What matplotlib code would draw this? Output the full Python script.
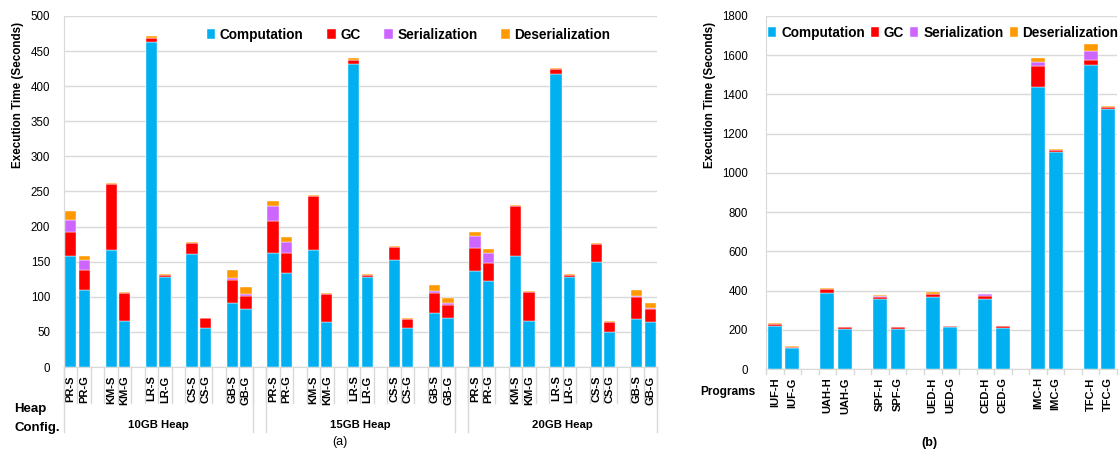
import numpy as np
import matplotlib.pyplot as plt
import matplotlib.transforms as mtransforms

plt.rcParams['font.family'] = ['Liberation Sans', 'DejaVu Sans']

# colours of the four time components
c_comp = '#00B0F0'
c_gc = '#FF0000'
c_ser = '#CC66FF'
c_deser = '#FF9900'
grid_c = '#D9D9D9'

# (a) Spark workloads under three heap sizes
heaps = ['10GB Heap', '15GB Heap', '20GB Heap']
workloads = ['PR-S', 'PR-G', 'KM-S', 'KM-G', 'LR-S', 'LR-G', 'CS-S', 'CS-G', 'GB-S', 'GB-G']

comp_a = [158, 109, 167, 65, 463, 127.5, 161, 56, 91.5, 83,
          162, 134, 167, 64, 432, 128, 153, 55.7, 76.7, 70.5,
          137, 122, 158.6, 66, 418, 128, 150, 50.5, 69, 64.3]
gc_a = [34, 29, 93, 41, 5.5, 3, 15, 13.5, 32.5, 18.5,
        45.5, 29, 77, 40, 4.8, 3, 17.5, 12, 28.3, 18,
        32, 25.6, 71, 40.7, 5.8, 3.4, 25.7, 14.3, 30.5, 17.7]
ser_a = [18, 14, 0.5, 0, 0, 0, 0, 0, 3, 2.5,
         21.5, 15.5, 0, 0, 0, 0, 0, 0, 3, 2.8,
         17, 15.4, 0, 0, 0, 0, 0, 0, 1.9, 1.8]
deser_a = [12, 6, 1.5, 1.5, 3, 2, 2, 1, 11, 9.5,
           7, 7, 1.5, 1.5, 2.8, 1.5, 1.5, 1.4, 8.7, 7.6,
           6, 5.6, 1, 1, 2, 1.5, 1.3, 0.9, 8.1, 7.2]

# (b) programs, H and G versions
programs = ['IUF-H', 'IUF-G', 'UAH-H', 'UAH-G', 'SPF-H', 'SPF-G', 'UED-H', 'UED-G',
            'CED-H', 'CED-G', 'IMC-H', 'IMC-G', 'TFC-H', 'TFC-G']
comp_b = [217, 105, 390, 205, 357.6, 205, 367.8, 213.6, 359, 208.5, 1436, 1106, 1548, 1328]
gc_b = [13.5, 8.6, 18.5, 7, 10.2, 7, 15.2, 6.4, 15.6, 8.5, 110, 12, 29, 10]
ser_b = [0, 0, 0, 0, 6.8, 0, 0, 0, 6.4, 0, 20.5, 0, 42, 0]
deser_b = [3.5, 1.4, 6.5, 0, 5.1, 0, 8.5, 0, 3.7, 0, 20.5, 2, 39, 2]


def slots(n_items):
    # every pair of bars is followed by one empty slot
    return np.array([(i // 2) * 3 + i % 2 for i in range(n_items)])


def stack(ax, x, parts, width):
    bottom = np.zeros(len(x))
    names = ['Computation', 'GC', 'Serialization', 'Deserialization']
    cols = [c_comp, c_gc, c_ser, c_deser]
    for vals, name, col in zip(parts, names, cols):
        vals = np.array(vals, dtype=float)
        ax.bar(x, vals, width, bottom=bottom, color=col, label=name,
               edgecolor='white', linewidth=0.3, zorder=3)
        bottom += vals


def style(ax, top, step, ypad):
    ax.set_ylim(0, top)
    ax.set_yticks(np.arange(0, top + 1, step))
    ax.grid(axis='y', color=grid_c, linewidth=1, zorder=0)
    for s in ['top', 'right']:
        ax.spines[s].set_visible(False)
    ax.spines['left'].set_color(grid_c)
    ax.spines['bottom'].set_color(grid_c)
    ax.tick_params(axis='y', length=0, labelsize=8.3, pad=ypad)
    ax.tick_params(axis='x', length=0, labelsize=8, pad=6)


fig = plt.figure(figsize=(11.19, 4.51), dpi=100)

# ---- chart (a)
ax1 = fig.add_axes([64 / 1119, 1 - 367 / 451, 593 / 1119, 351 / 451])
x1 = slots(30)
stack(ax1, x1, [comp_a, gc_a, ser_a, deser_a], 0.84)
style(ax1, 500, 50, 10)
ax1.set_xlim(-0.5, 43.5)
ax1.set_xticks(x1)
ax1.set_xticklabels(workloads * 3, rotation=90, fontweight='bold')

trans1 = mtransforms.blended_transform_factory(ax1.transData, ax1.transAxes)
# separators in the workload label row
for b in np.arange(-0.5, 44, 1):
    ax1.plot([b, b], [0, -36 / 351], color=grid_c, lw=1, transform=trans1, clip_on=False)
# separators in the heap row
for b in [-0.5, 13.5, 14.5, 28.5, 29.5, 43.5]:
    ax1.plot([b, b], [0, -65 / 351], color=grid_c, lw=1, transform=trans1, clip_on=False)
for g, h in enumerate(heaps):
    ax1.text(g * 15 + 6.5, -58 / 351, h, transform=trans1, ha='center', va='center',
             fontsize=8.2, fontweight='bold')

leg1 = ax1.legend(loc='center left', bbox_to_anchor=(0.241, 0.946), ncol=4, frameon=False,
                  prop={'weight': 'bold', 'size': 9.8}, handlelength=0.6, handleheight=0.7,
                  handletextpad=0.35, columnspacing=1.75, borderpad=0, borderaxespad=0)

fig.text(14 / 1119, 1 - 409 / 451, 'Heap', fontsize=9.5, fontweight='bold', va='center')
fig.text(14 / 1119, 1 - 428 / 451, 'Config.', fontsize=9.5, fontweight='bold', va='center')
fig.text(18 / 1119, 1 - 95 / 451, 'Execution Time (Seconds)', rotation=90, ha='center',
         va='center', fontsize=8.4, fontweight='bold')
fig.text(340 / 1119, 1 - 442 / 451, '(a)', ha='center', va='center', fontsize=9)

# ---- chart (b)
ax2 = fig.add_axes([766 / 1119, 1 - 369 / 451, 351 / 1119, 353 / 451])
x2 = slots(14)
stack(ax2, x2, [comp_b, gc_b, ser_b, deser_b], 0.8)
style(ax2, 1800, 200, 13)
ax2.set_xlim(-0.5, 19.5)
ax2.set_xticks(x2)
ax2.set_xticklabels(programs, rotation=90, fontweight='bold')

trans2 = mtransforms.blended_transform_factory(ax2.transData, ax2.transAxes)
for b in np.arange(-0.5, 20, 1):
    ax2.plot([b, b], [0, -5 / 353], color=grid_c, lw=1, transform=trans2, clip_on=False)

leg2 = ax2.legend(loc='center left', bbox_to_anchor=(0.006, 0.952), ncol=4, frameon=False,
                  prop={'weight': 'bold', 'size': 9.8}, handlelength=0.6, handleheight=0.7,
                  handletextpad=0.35, columnspacing=0.45, borderpad=0, borderaxespad=0)

fig.text(728 / 1119, 1 - 392 / 451, 'Programs', ha='center', va='center', fontsize=8.6,
         fontweight='bold')
fig.text(710 / 1119, 1 - 95 / 451, 'Execution Time (Seconds)', rotation=90, ha='center',
         va='center', fontsize=8.4, fontweight='bold')
fig.text(929 / 1119, 1 - 443 / 451, '(b)', ha='center', va='center', fontsize=9,
         fontweight='bold')

fig.savefig('out.png', dpi=100)
